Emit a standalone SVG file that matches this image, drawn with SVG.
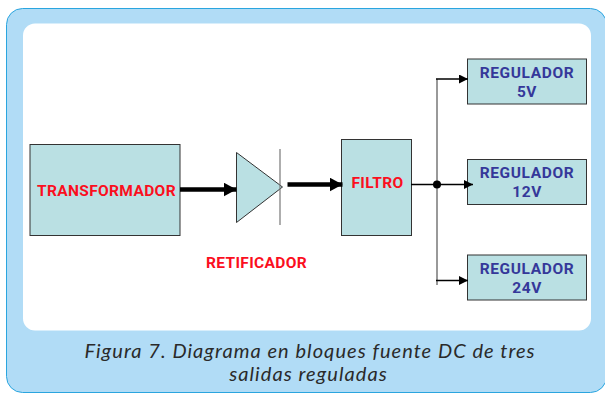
<svg xmlns="http://www.w3.org/2000/svg" width="605" height="393" viewBox="0 0 605 393">
<style>
.box{fill:#bae0e3;stroke:#333;stroke-width:1}
.red{fill:#fb0f1e;font:bold 15.500px Roboto,"Liberation Sans",Arial,sans-serif;letter-spacing:.35px}
.blue{fill:#35389a;font:bold 15.500px Roboto,"Liberation Sans",Arial,sans-serif;text-anchor:middle;letter-spacing:.6px}
.cap{fill:#2a2a2a;font:italic 20px Lato,"Liberation Sans",sans-serif;text-anchor:middle;letter-spacing:1.050px}
.thick{stroke:#000;stroke-width:4.500;fill:none}
.thin{stroke:#000;stroke-width:1.500;fill:none}
.gray{stroke:#777;stroke-width:1.500;fill:none}
</style>
<defs>
<marker id="big" markerUnits="userSpaceOnUse" markerWidth="13" markerHeight="14" refX="13" refY="7" orient="auto"><path d="M0 0L13 7L0 14Z" fill="#000"/></marker>
<marker id="small" markerUnits="userSpaceOnUse" markerWidth="9" markerHeight="9" refX="9" refY="4.500" orient="auto"><path d="M0 0L9 4.500L0 9Z" fill="#000"/></marker>
</defs>
<rect width="605" height="393" fill="#fff"/>
<rect x="6.500" y="8.500" width="600" height="384" rx="16" fill="#b1dcf6" stroke="#2aa5df" stroke-width="1"/>
<rect x="23" y="23.500" width="568" height="307" rx="12" fill="#fff"/>
<g id="transformador"><rect class="box" x="30" y="144.500" width="150" height="91"/><text class="red" x="37" y="196">TRANSFORMADOR</text></g>
<g id="retificador"><path class="box" d="M236.500 152.500L282.500 187L236.500 222.500Z"/><path stroke="#777" stroke-width="1.200" d="M280 149V225"/><text class="red" x="206" y="268">RETIFICADOR</text></g>
<g id="filtro"><rect class="box" x="341.500" y="139.500" width="70" height="96"/><text class="red" x="351.500" y="188">FILTRO</text></g>
<g id="reg5"><rect class="box" x="467.500" y="59" width="119" height="45"/><text class="blue" x="527" y="78">REGULADOR</text><text class="blue" x="527" y="97">5V</text></g>
<g id="reg12"><rect class="box" x="467.500" y="159.500" width="119" height="45"/><text class="blue" x="527" y="178">REGULADOR</text><text class="blue" x="527" y="197">12V</text></g>
<g id="reg24"><rect class="box" x="467.500" y="255" width="119" height="45"/><text class="blue" x="527" y="274">REGULADOR</text><text class="blue" x="527" y="293">24V</text></g>
<g id="connectors">
<path class="thick" d="M180 189.500H236.500" marker-end="url(#big)"/>
<path class="thick" d="M287.500 184.500H342.500" marker-end="url(#big)"/>
<path class="thin" d="M411 184.500H473" marker-end="url(#small)"/>
<path class="gray" d="M437 79V285"/>
<path class="thin" d="M436 79H468" marker-end="url(#small)"/>
<path class="thin" d="M436 280.500H468" marker-end="url(#small)"/>
<circle cx="437" cy="184.500" r="4" fill="#000"/>
</g>
<g id="caption"><text class="cap" x="310" y="358">Figura 7. Diagrama en bloques fuente DC de tres</text><text class="cap" x="308.500" y="381">salidas reguladas</text></g>
</svg>
